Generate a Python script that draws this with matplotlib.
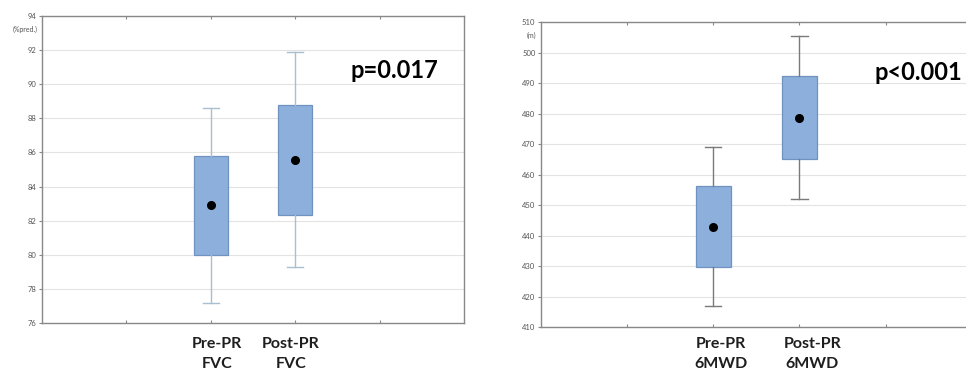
import matplotlib
matplotlib.use("Agg")
import matplotlib.pyplot as plt

# FVC (%pred.) before / after pulmonary rehabilitation
fvc_labels = ["Pre-PR\nFVC", "Post-PR\nFVC"]
fvc_mean = [82.9, 85.55]
fvc_q1 = [80.0, 82.35]
fvc_q3 = [85.8, 88.8]
fvc_lo = [77.2, 79.3]
fvc_hi = [88.6, 91.9]

# 6-minute walk distance (m)
mwd_labels = ["Pre-PR\n6MWD", "Post-PR\n6MWD"]
mwd_mean = [442.9, 478.6]
mwd_q1 = [429.7, 465.0]
mwd_q3 = [456.2, 492.2]
mwd_lo = [417.0, 452.0]
mwd_hi = [469.0, 505.3]

plt.rcParams['font.family'] = ['Lato', 'DejaVu Sans']

fig = plt.figure(figsize=(9.66, 3.71), dpi=100)
ax1 = fig.add_axes([0.0435, 0.1294, 0.4369, 0.8275])
ax2 = fig.add_axes([0.560, 0.1186, 0.446, 0.822])


def draw_panel(ax, labels, mean, q1, q3, lo, hi, ylim, step, unit, ptext,
               ppos, whisker_col, label_dx, label_y):
    stats = []
    for i in range(len(labels)):
        stats.append(dict(med=mean[i], mean=mean[i], q1=q1[i], q3=q3[i],
                          whislo=lo[i], whishi=hi[i], fliers=[]))
    ax.bxp(stats, positions=[2, 3], widths=0.4, patch_artist=True,
           showmeans=True, showfliers=False,
           boxprops=dict(facecolor="#8dafdc", edgecolor="#6f92c0", linewidth=0.9),
           medianprops=dict(linewidth=0),
           whiskerprops=dict(color=whisker_col, linewidth=1.0),
           capprops=dict(color=whisker_col, linewidth=1.0),
           capwidths=0.19,
           meanprops=dict(marker="o", markerfacecolor="black",
                          markeredgecolor="black", markersize=5.5))
    ax.set_xlim(0, 5)
    ax.set_ylim(*ylim)
    ticks = list(range(ylim[0], ylim[1] + 1, step))
    ax.set_yticks(ticks)
    ax.set_yticklabels([str(t) for t in ticks])
    ax.set_xticks([1, 2, 3, 4])
    ax.set_xticklabels([])
    ax.tick_params(axis="x", which="both", length=2, direction="in",
                   top=True, color="#888888")
    ax.tick_params(axis="y", length=2, direction="out", color="#888888",
                   labelsize=5.5, labelcolor="#555555", pad=2)
    ax.grid(axis="y", color="#e3e3e3", linewidth=0.8)
    ax.set_axisbelow(True)
    for s in ax.spines.values():
        s.set_color("#888888")
        s.set_linewidth(1.0)
    ax.text(-0.01, 0.955, unit, transform=ax.transAxes, ha="right",
            va="center", fontsize=5, color="#555555")
    ax.text(ppos[0], ppos[1], ptext, transform=ax.transAxes, ha="center",
            va="center", fontsize=17, fontweight="bold", color="black")
    # category names, two lines each, set under the axis
    for i, lab in enumerate(labels):
        first, second = lab.split("\n")
        x = 2 + i + label_dx[i]
        ax.annotate(first, (x, 0), xycoords=("data", "axes fraction"),
                    xytext=(0, label_y), textcoords="offset pixels",
                    ha="center", va="center", fontsize=11.5,
                    fontweight="bold", color="#1e1e1e")
        ax.annotate(second, (x, 0), xycoords=("data", "axes fraction"),
                    xytext=(0, label_y - 20), textcoords="offset pixels",
                    ha="center", va="center", fontsize=11.5,
                    fontweight="bold", color="#1e1e1e")


draw_panel(ax1, fvc_labels, fvc_mean, fvc_q1, fvc_q3, fvc_lo, fvc_hi,
           (76, 94), 2, "(%pred.)", "p=0.017", (0.834, 0.824),
           "#a9bfcf", [0.07, -0.05], -21)
draw_panel(ax2, mwd_labels, mwd_mean, mwd_q1, mwd_q3, mwd_lo, mwd_hi,
           (410, 510), 10, "(m)", "p<0.001", (0.876, 0.836),
           "#7a7a7a", [0.09, 0.15], -17)

fig.savefig("out.png", dpi=100)
